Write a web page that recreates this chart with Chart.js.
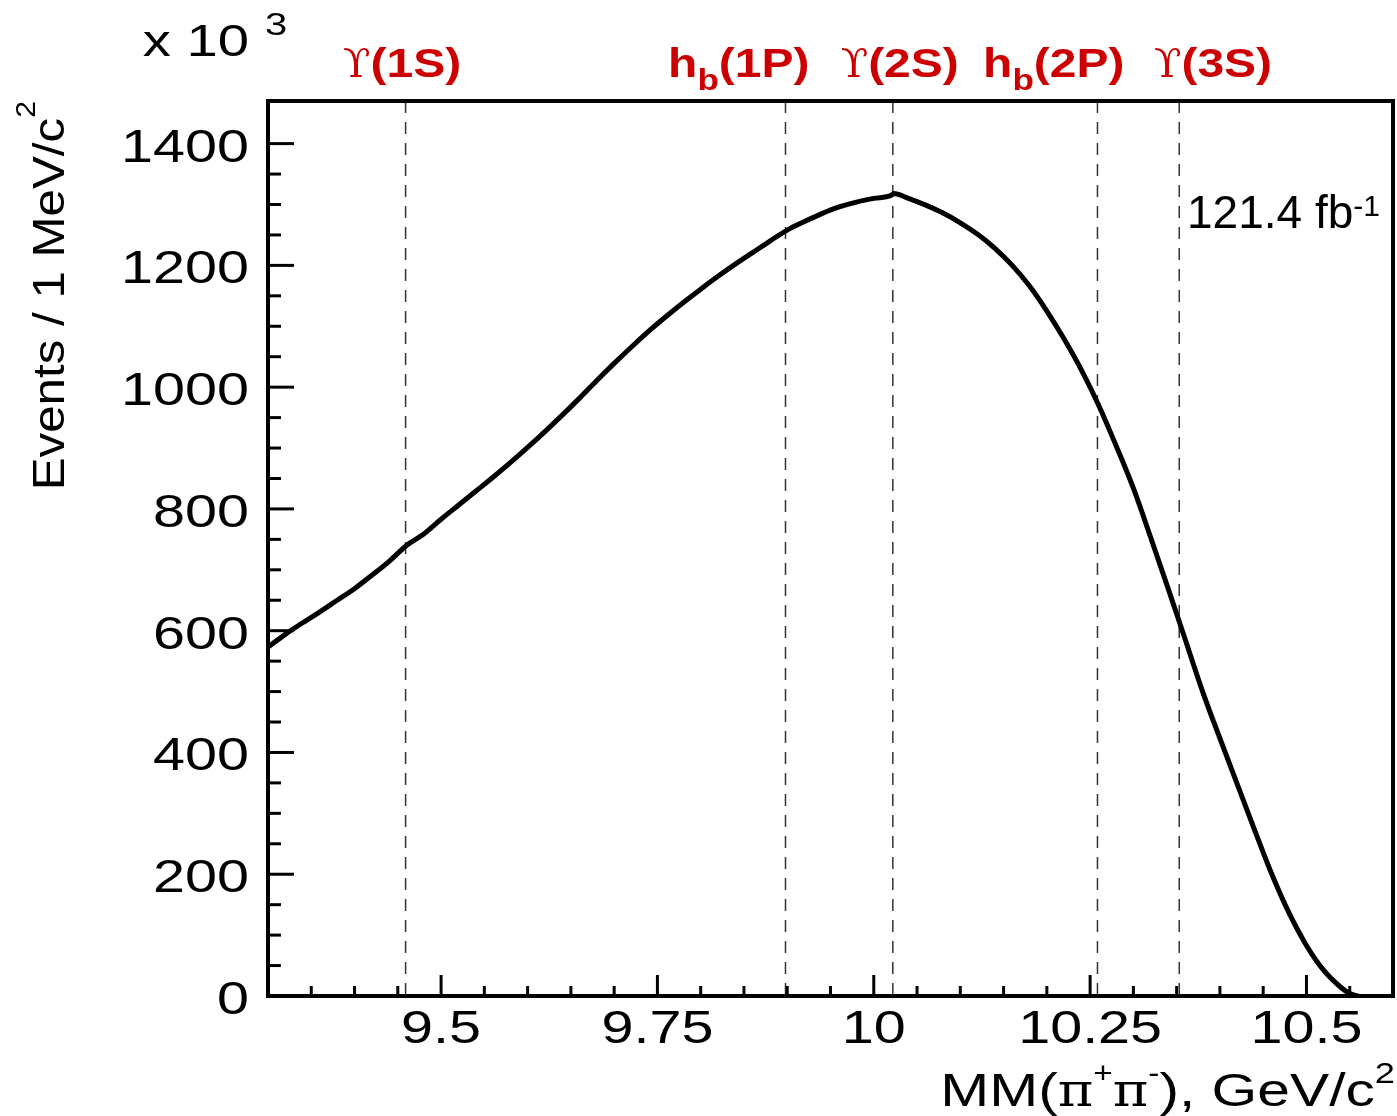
<!DOCTYPE html>
<html><head><meta charset="utf-8">
<script src="https://cdn.jsdelivr.net/npm/chart.js@4.4.0/dist/chart.umd.min.js"></script>
<style>html,body{margin:0;padding:0;background:#fff;}#wrap{width:1397px;height:1116px;}</style>
</head><body><div id="wrap"><canvas id="c" width="1397" height="1116"></canvas></div>
<script>
// ---- data ----
const massGeV = [9.30,9.32,9.34,9.36,9.38,9.40,9.42,9.44,9.46,9.48,9.50,9.52,9.54,9.56,9.58,9.60,9.62,9.64,9.66,9.68,9.70,9.72,9.74,9.76,9.78,9.80,9.82,9.84,9.86,9.88,9.90,9.92,9.94,9.96,9.98,10.00,10.02,10.023,10.04,10.06,10.08,10.10,10.12,10.14,10.16,10.18,10.20,10.22,10.24,10.26,10.28,10.30,10.32,10.34,10.36,10.38,10.40,10.42,10.44,10.46,10.48,10.50,10.52,10.54,10.55,10.56];
const eventsK = [573,594,613,631,650,669,691,714,740,759,783,806,829,852,876,901,927,954,982,1011,1039,1066,1092,1116,1139,1161,1182,1202,1221,1240,1258,1272,1285,1296,1304,1310,1315,1318,1310,1299,1286,1270,1251,1228,1200,1166,1125,1079,1028,970,904,834,753,670,585,500,423,348,273,200,136,83,42,14,4,0];
const stateMass = [9.459, 9.898, 10.022, 10.2585, 10.353];
const stateNames = ['ϒ(1S)', 'hb(1P)', 'ϒ(2S)', 'hb(2P)', 'ϒ(3S)'];
const xTickLabels = ['9.5', '9.75', '10', '10.25', '10.5'];
const yTickLabels = ['0', '200', '400', '600', '800', '1000', '1200', '1400'];
const xRange = [9.3, 10.6];
const yRange = [0, 1470];
const lumiText = '121.4 fb';
// label anchor positions (centres, in GeV) for the state names
const stateLabelX = [9.455, 9.844, 10.030, 10.208, 10.392];

// ---- helpers ----
const SANS = '"Liberation Sans", Arial, Helvetica, sans-serif';
const SERIF = '"DejaVu Serif", "Liberation Serif", serif';
function drawRich(ctx, pieces, x, y, align) {
  let total = 0;
  for (const p of pieces) { ctx.font = p.font; p.w = ctx.measureText(p.t).width * (p.sx || 1); total += p.w; }
  let cx = align === 'right' ? x - total : align === 'center' ? x - total / 2 : x;
  for (const p of pieces) {
    ctx.save();
    ctx.font = p.font; ctx.fillStyle = p.color || '#000';
    ctx.textAlign = 'left'; ctx.textBaseline = 'alphabetic';
    ctx.translate(cx, y + (p.dy || 0)); ctx.scale(p.sx || 1, 1);
    ctx.fillText(p.t, 0, 0);
    ctx.restore();
    cx += p.w;
  }
}
function near(v, step) { return Math.abs(v / step - Math.round(v / step)) < 1e-6; }

const decor = {
  id: 'decor',
  afterDraw(chart) {
    const ctx = chart.ctx, ca = chart.chartArea, xs = chart.scales.x, ys = chart.scales.y;
    ctx.save();
    // frame top / right
    ctx.strokeStyle = '#000'; ctx.lineWidth = 4; ctx.lineCap = 'butt';
    ctx.beginPath();
    ctx.moveTo(ca.left - 2, ca.top); ctx.lineTo(ca.right, ca.top); ctx.lineTo(ca.right, ca.bottom + 2);
    ctx.stroke();
    // inward ticks
    ctx.lineWidth = 3;
    for (const t of xs.ticks) {
      const v = t.value;
      if (v <= xRange[0] + 1e-9 || v >= xRange[1] - 1e-9) continue;
      const px = xs.getPixelForValue(v);
      const len = near(v, 0.25) ? 21 : 10;
      ctx.beginPath(); ctx.moveTo(px, ca.bottom); ctx.lineTo(px, ca.bottom - len); ctx.stroke();
    }
    for (const t of ys.ticks) {
      const v = t.value;
      if (!near(v, 50) || v <= yRange[0] || v >= yRange[1]) continue;
      const py = ys.getPixelForValue(v);
      const len = near(v, 200) ? 26 : 13;
      ctx.beginPath(); ctx.moveTo(ca.left, py); ctx.lineTo(ca.left + len, py); ctx.stroke();
    }
    // tick labels
    for (const s of xTickLabels) {
      const px = xs.getPixelForValue(parseFloat(s));
      drawRich(ctx, [{ t: s, font: '46px ' + SANS, sx: 1.25 }], px, 1043, 'center');
    }
    for (const s of yTickLabels) {
      const py = ys.getPixelForValue(parseFloat(s));
      drawRich(ctx, [{ t: s, font: '46px ' + SANS, sx: 1.25 }], 249, py + 18, 'right');
    }
    // exponent
    drawRich(ctx, [{ t: 'x 10', font: '45px ' + SANS, sx: 1.25 }], 249, 56, 'right');
    drawRich(ctx, [{ t: '3', font: '32px ' + SANS, sx: 1.25 }], 265, 35, 'left');
    // x title
    const xt = [
      { t: 'MM(', font: '47px ' + SANS, sx: 1.25 },
      { t: 'π', font: '47px ' + SERIF, sx: 1.15 },
      { t: '+', font: '29px ' + SANS, sx: 1.15, dy: -23 },
      { t: 'π', font: '47px ' + SERIF, sx: 1.15 },
      { t: '-', font: '29px ' + SANS, sx: 1.15, dy: -23 },
      { t: '), GeV/c', font: '47px ' + SANS, sx: 1.25 },
      { t: '2', font: '29px ' + SANS, sx: 1.25, dy: -23 }
    ];
    drawRich(ctx, xt, 1395, 1106, 'right');
    // y title (rotated)
    ctx.save();
    ctx.translate(64, ca.top); ctx.rotate(-Math.PI / 2);
    drawRich(ctx, [
      { t: 'Events / 1 MeV/c', font: '44px ' + SANS, sx: 1.12 },
      { t: '2', font: '27px ' + SANS, sx: 1.12, dy: -29 }
    ], 0, 0, 'right');
    ctx.restore();
    // luminosity
    drawRich(ctx, [
      { t: lumiText, font: '46px ' + SANS },
      { t: '-1', font: '30px ' + SANS, dy: -12 }
    ], 1187, 228, 'left');
    // state labels
    const red = '#cc0000';
    stateNames.forEach((name, i) => {
      const cx = xs.getPixelForValue(stateLabelX[i]);
      let pieces;
      if (name.startsWith('hb')) {
        pieces = [
          { t: 'h', font: 'bold 41px ' + SANS, sx: 1.17, color: red },
          { t: 'b', font: 'bold 30px ' + SANS, sx: 1.17, dy: 13, color: red },
          { t: name.slice(2), font: 'bold 41px ' + SANS, sx: 1.17, color: red }
        ];
      } else {
        pieces = [
          { t: name.slice(0, 1), font: '40px ' + SERIF, sx: 1.0, color: red },
          { t: name.slice(1), font: 'bold 41px ' + SANS, sx: 1.17, color: red }
        ];
      }
      drawRich(ctx, pieces, cx, 77, 'center');
    });
    ctx.restore();
  }
};

const curve = massGeV.map((x, i) => ({ x: x, y: eventsK[i] }));
const datasets = [{
  data: curve, borderColor: '#000', borderWidth: 5, pointRadius: 0,
  cubicInterpolationMode: 'monotone', fill: false
}];
stateMass.forEach(m => datasets.push({
  data: [{ x: m, y: yRange[1] }, { x: m, y: yRange[0] }],
  borderColor: '#333333', borderWidth: 1.5, borderDash: [12, 9], pointRadius: 0, fill: false
}));

new Chart(document.getElementById('c'), {
  type: 'line',
  data: { datasets: datasets },
  options: {
    responsive: false, animation: false, devicePixelRatio: 1,
    layout: { padding: { top: 101, right: 4, left: 0, bottom: 0 } },
    plugins: { legend: { display: false }, tooltip: { enabled: false } },
    scales: {
      x: {
        type: 'linear', min: xRange[0], max: xRange[1],
        ticks: { display: false, stepSize: 0.05 },
        grid: { display: false },
        border: { display: true, color: '#000', width: 4 },
        afterFit(s) { s.height = 120; }
      },
      y: {
        type: 'linear', min: yRange[0], max: yRange[1],
        ticks: { display: false, stepSize: 50 },
        grid: { display: false },
        border: { display: true, color: '#000', width: 4 },
        afterFit(s) { s.width = 268; }
      }
    }
  },
  plugins: [decor]
});
</script></body></html>
